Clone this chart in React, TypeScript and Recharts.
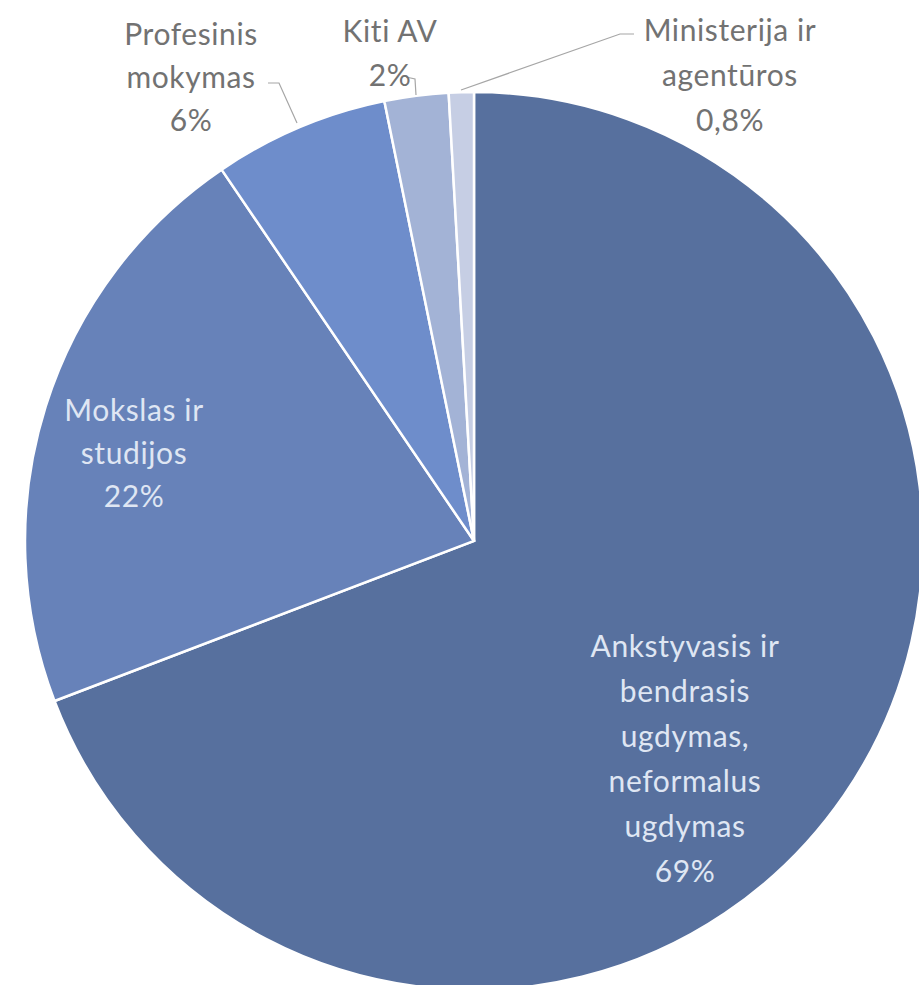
import { PieChart, Pie, Cell } from 'recharts'

document.body.style.margin = '0'

// Slice values (clockwise from 12 o'clock)
const names = [
  'Ankstyvasis ir bendrasis ugdymas, neformalus ugdymas',
  'Mokslas ir studijos',
  'Profesinis mokymas',
  'Kiti AV',
  'Ministerija ir agentūros',
]
const values = [69.2, 21.3, 6.3, 2.3, 0.9]
const labelLines = [
  ['Ankstyvasis ir', 'bendrasis', 'ugdymas,', 'neformalus', 'ugdymas', '69%'],
  ['Mokslas ir', 'studijos', '22%'],
  ['Profesinis', 'mokymas', '6%'],
  ['Kiti AV', '2%'],
  ['Ministerija ir', 'agentūros', '0,8%'],
]
const colors = ['#57709e', '#6782b9', '#6e8dcb', '#a3b3d6', '#c6cee4']

const data = names.map((name, i) => ({ name, value: values[i] }))

const FONT = 'Lato, "Open Sans", sans-serif'

// label placement relative to pie centre: dx, dy of first line, line height
const layout: Array<{ dx: number; dy: number; lh: number; inside: boolean; leader?: number[][] }> = [
  { dx: 211, dy: 104, lh: 45, inside: true },
  { dx: -340, dy: -132, lh: 43, inside: true },
  { dx: -283, dy: -508, lh: 43, inside: false, leader: [[-206, -458], [-195, -458], [-177, -418]] },
  { dx: -84, dy: -511, lh: 44, inside: false, leader: [[-68, -464], [-59, -462], [-58, -446]] },
  { dx: 256, dy: -512, lh: 45, inside: false, leader: [[160, -507], [146, -507], [-13, -451]] },
]

const renderLabel = (props: any) => {
  const { cx, cy, index } = props
  const l = layout[index]
  const lines = labelLines[index]
  return (
    <g key={`lbl-${index}`}>
      {l.leader && (
        <polyline
          points={l.leader.map(([x, y]) => `${cx + x},${cy + y}`).join(' ')}
          fill="none"
          stroke="#a6a6a6"
          strokeWidth={1.2}
        />
      )}
      <text
        x={cx + l.dx}
        y={cy + l.dy}
        textAnchor="middle"
        dominantBaseline="central"
        fill={l.inside ? '#dfe6f3' : '#727272'}
        fontFamily={FONT}
        fontSize={30}
        letterSpacing={0.6}
        style={{ fontVariantLigatures: 'none' }}
      >
        {lines.map((t, j) => (
          <tspan key={j} x={cx + l.dx} dy={j === 0 ? 0 : l.lh}>
            {t}
          </tspan>
        ))}
      </text>
    </g>
  )
}

export default function App() {
  return (
    <div style={{ width: 919, height: 985, background: '#ffffff' }}>
      <PieChart width={919} height={985} margin={{ top: 0, right: 0, bottom: 0, left: 0 }}>
        <Pie
          data={data}
          dataKey="value"
          nameKey="name"
          cx={474}
          cy={541}
          outerRadius={449}
          startAngle={90}
          endAngle={-270}
          stroke="#ffffff"
          strokeWidth={2.5}
          label={renderLabel}
          labelLine={false}
          isAnimationActive={false}
        >
          {data.map((d, i) => (
            <Cell key={d.name} fill={colors[i]} />
          ))}
        </Pie>
      </PieChart>
    </div>
  )
}
